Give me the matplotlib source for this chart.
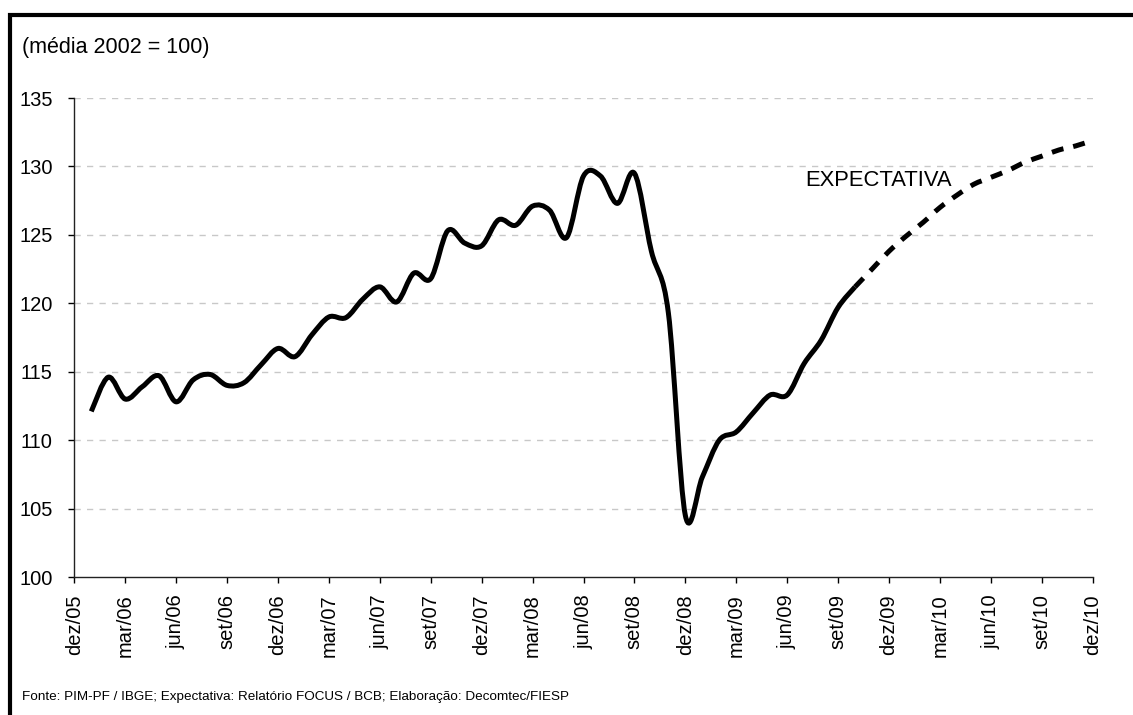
import numpy as np
import matplotlib
matplotlib.use("Agg")
import matplotlib.pyplot as plt
from matplotlib.path import Path
from matplotlib.patches import PathPatch, Rectangle

plt.rcParams['font.family'] = ['Liberation Sans', 'DejaVu Sans']

W, H = 1133, 715

# months counted from dez/05 = 0
months_obs = list(range(1, 47))
values_obs = [112.1, 114.6, 113.0, 113.9, 114.7, 112.8, 114.4, 114.8, 114.0, 114.2,
              115.5, 116.7, 116.1, 117.7, 119.0, 118.95, 120.3, 121.2, 120.1, 122.2,
              121.8, 125.3, 124.4, 124.2, 126.1, 125.7, 127.1, 126.8, 124.8, 129.3,
              129.3, 127.3, 129.5, 123.8, 119.3, 104.5, 107.3, 110.0, 110.6, 112.0,
              113.3, 113.3, 115.6, 117.3, 119.7, 121.2]

months_exp = list(range(46, 61))
values_exp = [121.2, 122.5, 123.8, 124.9, 125.9, 127.0, 127.9, 128.7, 129.2, 129.7,
              130.3, 130.75, 131.2, 131.5, 131.9]

tick_months = list(range(0, 61, 3))
tick_labels = ['dez/05', 'mar/06', 'jun/06', 'set/06', 'dez/06', 'mar/07', 'jun/07',
               'set/07', 'dez/07', 'mar/08', 'jun/08', 'set/08', 'dez/08', 'mar/09',
               'jun/09', 'set/09', 'dez/09', 'mar/10', 'jun/10', 'set/10', 'dez/10']


def smooth_path(x, y):
    # excel-like smoothed line: bezier segments through every point
    x = np.asarray(x, float)
    y = np.asarray(y, float)
    px = np.concatenate([[x[0]], x, [x[-1]]])
    py = np.concatenate([[y[0]], y, [y[-1]]])
    verts = [(x[0], y[0])]
    codes = [Path.MOVETO]
    for i in range(1, len(px) - 2):
        c1 = (px[i] + (px[i + 1] - px[i - 1]) / 6, py[i] + (py[i + 1] - py[i - 1]) / 6)
        c2 = (px[i + 1] - (px[i + 2] - px[i]) / 6, py[i + 1] - (py[i + 2] - py[i]) / 6)
        verts += [c1, c2, (px[i + 1], py[i + 1])]
        codes += [Path.CURVE4] * 3
    return Path(verts, codes)


fig = plt.figure(figsize=(W / 100, H / 100), dpi=100)
ax = fig.add_axes([74.3 / W, 1 - 577 / H, (1092.7 - 74.3) / W, (577 - 98) / H])

ax.add_patch(PathPatch(smooth_path(months_obs, values_obs), fill=False,
                       lw=3.6, edgecolor='black', capstyle='butt', joinstyle='round'))
ax.add_patch(PathPatch(smooth_path(months_exp, values_exp), fill=False,
                       lw=3.6, edgecolor='black', linestyle=(0, (2.4, 2.0)), capstyle='butt'))

ax.set_xlim(0, 60)
ax.set_ylim(100, 135)
ax.set_yticks(range(100, 136, 5))
ax.set_xticks(tick_months)
ax.set_xticklabels(tick_labels, rotation=90)
ax.tick_params(axis='x', length=4.5, width=1, pad=8, labelsize=14.5, direction='out')
ax.tick_params(axis='y', length=4.5, width=1, pad=11, labelsize=14.5, direction='out')

for v in range(105, 136, 5):
    ax.axhline(v, color='#c8c8c8', lw=1.0, linestyle=(0, (4.5, 4.5)), zorder=0)

for s in ['top', 'right']:
    ax.spines[s].set_visible(False)
for s in ['left', 'bottom']:
    ax.spines[s].set_linewidth(1.0)
    ax.spines[s].set_color('#222222')

ax.text(43.05, 128.97, 'EXPECTATIVA', fontsize=15.8, ha='left', va='center')

fig.text(22 / W, 1 - 47 / H, '(média 2002 = 100)', fontsize=15.5, ha='left', va='center')
fig.text(22 / W, 1 - 697 / H,
         'Fonte: PIM-PF / IBGE; Expectativa: Relatório FOCUS / BCB; Elaboração: Decomtec/FIESP',
         fontsize=9.7, ha='left', va='center')

# outer frame, only top and left edges fall inside the picture
fig.add_artist(Rectangle((10.3 / W, -0.5), 2, 0.5 + 1 - 14.7 / H, fill=False,
                         lw=3.0, edgecolor='black', transform=fig.transFigure,
                         clip_on=False))

fig.savefig('out.png', dpi=100)
